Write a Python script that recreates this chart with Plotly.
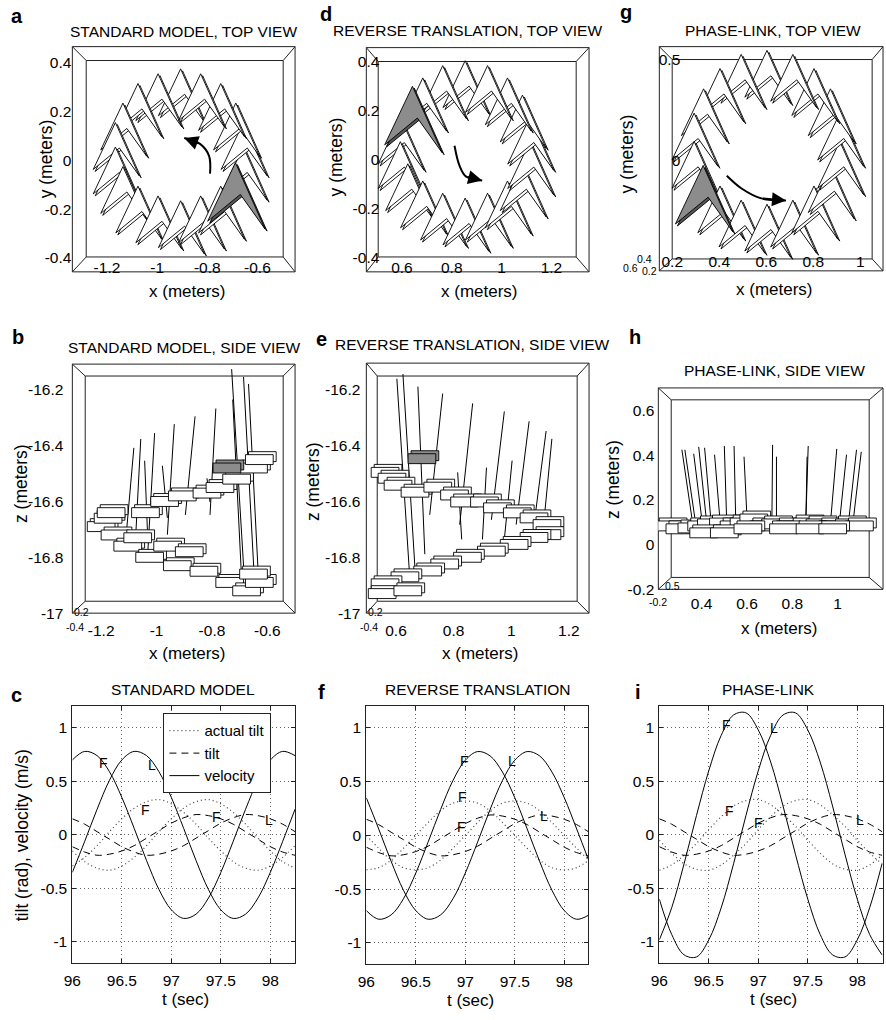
import plotly.graph_objects as go

W, H = 886, 1020
FONT = "Liberation Sans, Arial, Helvetica, sans-serif"

# ---------------- c / f / i : tilt and velocity against time ----------------
t = [96.0, 96.125, 96.25, 96.375, 96.5, 96.625, 96.75, 96.875, 97.0, 97.125,
     97.25, 97.375, 97.5, 97.625, 97.75, 97.875, 98.0, 98.125, 98.25]

tilt_F = [-0.11, -0.16, -0.19, -0.18, -0.15, -0.10, -0.03, 0.04, 0.11, 0.16,
          0.19, 0.18, 0.15, 0.10, 0.03, -0.04, -0.11, -0.16, -0.19]
tilt_L = [0.15, 0.10, 0.03, -0.04, -0.11, -0.16, -0.19, -0.18, -0.15, -0.10,
          -0.03, 0.04, 0.11, 0.16, 0.19, 0.18, 0.15, 0.10, 0.03]

std_vel_F = [0.70, 0.78, 0.74, 0.59, 0.35, 0.06, -0.24, -0.51, -0.70, -0.78,
             -0.74, -0.59, -0.35, -0.06, 0.24, 0.51, 0.70, 0.78, 0.74]
std_vel_L = [-0.35, -0.06, 0.24, 0.51, 0.70, 0.78, 0.74, 0.59, 0.35, 0.06,
             -0.24, -0.51, -0.70, -0.78, -0.74, -0.59, -0.35, -0.06, 0.24]
std_act_F = [-0.29, -0.21, -0.10, 0.03, 0.15, 0.25, 0.31, 0.33, 0.29, 0.21,
             0.10, -0.03, -0.15, -0.25, -0.31, -0.33, -0.29, -0.21, -0.10]
std_act_L = [-0.15, -0.25, -0.31, -0.33, -0.29, -0.21, -0.10, 0.03, 0.15, 0.25,
             0.31, 0.33, 0.29, 0.21, 0.10, -0.03, -0.15, -0.25, -0.31]

rev_vel_F = [-0.70, -0.78, -0.74, -0.59, -0.35, -0.06, 0.24, 0.51, 0.70, 0.78,
             0.74, 0.59, 0.35, 0.06, -0.24, -0.51, -0.70, -0.78, -0.74]
rev_vel_L = [0.35, 0.06, -0.24, -0.51, -0.70, -0.78, -0.74, -0.59, -0.35, -0.06,
             0.24, 0.51, 0.70, 0.78, 0.74, 0.59, 0.35, 0.06, -0.24]
rev_act_F = [-0.32, -0.30, -0.23, -0.12, 0.00, 0.12, 0.23, 0.30, 0.32, 0.30,
             0.23, 0.12, 0.00, -0.12, -0.23, -0.30, -0.32, -0.30, -0.23]
rev_act_L = [0.00, -0.12, -0.23, -0.30, -0.32, -0.30, -0.23, -0.12, 0.00, 0.12,
             0.23, 0.30, 0.32, 0.30, 0.23, 0.12, 0.00, -0.12, -0.23]

pl_vel_F = [-0.98, -0.68, -0.27, 0.18, 0.60, 0.93, 1.12, 1.14, 0.98, 0.68,
            0.27, -0.18, -0.60, -0.93, -1.12, -1.14, -0.98, -0.68, -0.27]
pl_vel_L = [-0.60, -0.93, -1.12, -1.14, -0.98, -0.68, -0.27, 0.18, 0.60, 0.93,
            1.12, 1.14, 0.98, 0.68, 0.27, -0.18, -0.60, -0.93, -1.12]
pl_act_F = [-0.33, -0.28, -0.19, -0.08, 0.05, 0.17, 0.27, 0.32, 0.33, 0.28,
            0.19, 0.08, -0.05, -0.17, -0.27, -0.32, -0.33, -0.28, -0.19]
pl_act_L = [-0.05, -0.17, -0.27, -0.32, -0.33, -0.28, -0.19, -0.08, 0.05, 0.17,
            0.27, 0.32, 0.33, 0.28, 0.19, 0.08, -0.05, -0.17, -0.27]

# F / L markers written on the curves
std_mark_x = [96.31, 96.80, 96.74, 97.46, 97.99]
std_mark_y = [0.67, 0.65, 0.23, 0.17, 0.14]
rev_mark_x = [96.99, 97.47, 96.97, 96.96, 97.79]
rev_mark_y = [0.69, 0.69, 0.36, 0.08, 0.18]
pl_mark_x = [96.68, 97.16, 96.71, 97.00, 98.03]
pl_mark_y = [1.03, 1.00, 0.22, 0.11, 0.14]
mark_text = ["F", "L", "F", "F", "L"]

t_ticks = [96, 96.5, 97, 97.5, 98]
t_ticktext = ["96", "96.5", "97", "97.5", "98"]
v_ticks = [-1, -0.5, 0, 0.5, 1]
v_ticktext = ["-1", "-0.5", "0", "0.5", "1"]

# ---------------- a / d / g : top views (glyph centres, metres) ----------------
a_x = [-0.90, -0.99, -1.07, -1.13, -1.16, -1.16, -1.13, -1.07, -0.99,
       -0.90, -0.82, -0.74, -0.68, -0.65, -0.65, -0.68, -0.74, -0.82]
a_y = [0.27, 0.25, 0.21, 0.13, 0.05, -0.05, -0.13, -0.21, -0.25,
       -0.27, -0.25, -0.21, -0.14, -0.05, 0.05, 0.13, 0.21, 0.25]
d_x = [0.86, 0.77, 0.69, 0.65, 0.60, 0.60, 0.63, 0.69, 0.77,
       0.86, 0.95, 1.03, 1.09, 1.12, 1.12, 1.09, 1.03, 0.95]
d_y = [0.30, 0.28, 0.23, 0.17, 0.07, -0.03, -0.12, -0.19, -0.24,
       -0.26, -0.24, -0.19, -0.12, -0.03, 0.07, 0.16, 0.23, 0.28]
g_x = [0.61, 0.50, 0.41, 0.34, 0.30, 0.30, 0.34, 0.41, 0.50,
       0.61, 0.72, 0.81, 0.88, 0.92, 0.92, 0.88, 0.81, 0.72]
g_y = [0.42, 0.40, 0.33, 0.23, 0.11, -0.03, -0.18, -0.25, -0.32,
       -0.34, -0.32, -0.25, -0.15, -0.03, 0.11, 0.23, 0.33, 0.40]
a_shaded, d_shaded, g_shaded = 12, 3, 6

a_arrow_x = [-0.789, -0.793, -0.829, -0.892]
a_arrow_y = [-0.055, 0.018, 0.067, 0.091]
d_arrow_x = [0.811, 0.831, 0.858, 0.922]
d_arrow_y = [0.057, -0.024, -0.069, -0.085]
g_arrow_x = [0.432, 0.495, 0.579, 0.684]
g_arrow_y = [-0.074, -0.137, -0.186, -0.196]

# ---------------- b / e / h : side views (plates and wing sticks, metres) ----------------
b_plate_x = [-1.20, -1.175, -1.15, -1.164, -1.104, -1.025, -1.068, -0.925, -0.829, -0.736,
             -0.675, -0.629, -0.65, -1.04, -0.971, -0.907, -0.818, -0.771, -0.711, -0.65,
             -0.629, -0.96, -0.882, -0.746]
b_plate_z = [-16.69, -16.66, -16.72, -16.64, -16.76, -16.80, -16.73, -16.83, -16.85, -16.89,
             -16.92, -16.89, -16.86, -16.64, -16.60, -16.58, -16.57, -16.55, -16.52, -16.48,
             -16.45, -16.76, -16.78, -16.48]
b_top_x = [-1.082, -1.057, -1.007, -0.936, -0.861, -0.786, -0.725, -0.729, -0.686, -0.668,
           -1.043, -0.979, -0.818]
b_top_z = [-16.408, -16.376, -16.355, -16.323, -16.295, -16.267, -16.235, -16.126, -16.154,
           -16.179, -16.454, -16.472, -16.517]
b_base_x = [-1.111, -1.075, -1.032, -0.961, -0.896, -0.807, -0.693, -0.682, -0.646, -0.632,
            -1.032, -0.961, -0.807]
b_base_z = [-16.736, -16.719, -16.789, -16.719, -16.648, -16.648, -16.877, -16.895, -16.895,
            -16.877, -16.729, -16.659, -16.602]

e_plate_x = [0.562, 0.586, 0.607, 0.666, 0.745, 0.803, 0.838, 0.907, 0.952, 1.021,
             1.079, 1.124, 1.124, 1.079, 1.010, 0.931, 0.848, 0.769, 0.710, 0.631,
             0.562, 0.552, 0.641, 0.690]
e_plate_z = [-16.496, -16.517, -16.542, -16.567, -16.549, -16.577, -16.602, -16.602, -16.623,
             -16.641, -16.659, -16.683, -16.719, -16.729, -16.754, -16.778, -16.800, -16.824,
             -16.849, -16.870, -16.895, -16.930, -16.920, -16.447]
e_top_x = [0.603, 0.624, 0.676, 0.762, 0.866, 0.976, 1.062, 1.121, 1.141, 1.003, 0.914, 0.814]
e_top_z = [-16.161, -16.144, -16.189, -16.214, -16.249, -16.278, -16.313, -16.348, -16.376,
           -16.454, -16.479, -16.496]
e_base_x = [0.648, 0.666, 0.700, 0.717, 0.821, 0.931, 1.017, 1.079, 1.114, 0.976, 0.900, 0.828]
e_base_z = [-16.877, -16.842, -16.789, -16.648, -16.683, -16.666, -16.683, -16.683, -16.666,
            -16.736, -16.736, -16.736]

h_plate_x = [0.261, 0.304, 0.357, 0.400, 0.443, 0.496, 0.543, 0.587, 0.630, 0.674, 0.726, 0.791,
             0.865, 0.922, 0.978, 1.052, 1.096, 0.409, 0.500, 0.604, 0.761, 0.878, 0.978]
h_plate_z = [0.084, 0.071, 0.075, 0.084, 0.093, 0.097, 0.084, 0.097, 0.115, 0.084, 0.093, 0.084,
             0.097, 0.093, 0.084, 0.093, 0.084, 0.053, 0.053, 0.071, 0.071, 0.071, 0.071]
h_top_x = [0.313, 0.326, 0.365, 0.387, 0.413, 0.457, 0.500, 0.543, 0.587, 0.713, 0.730, 0.870,
           0.865, 0.996, 1.083, 1.104, 1.039]
h_top_z = [0.425, 0.425, 0.407, 0.438, 0.434, 0.403, 0.442, 0.442, 0.394, 0.447, 0.394, 0.442,
           0.394, 0.429, 0.425, 0.416, 0.403]
h_base_x = [0.357, 0.370, 0.400, 0.420, 0.440, 0.480, 0.510, 0.550, 0.600, 0.710, 0.730, 0.860,
            0.860, 0.970, 1.050, 1.070, 1.010]
h_base_z = [0.12, 0.12, 0.12, 0.12, 0.12, 0.12, 0.12, 0.12, 0.12, 0.12, 0.12, 0.12,
            0.12, 0.12, 0.12, 0.12, 0.12]

# panel geometry: outer box / inner box in pixels, ranges, ticks, label standoffs
P = {
    "a": dict(n=1, box=(64, 47, 289, 274), inner=(78, 61, 277, 259),
              xr=(-1.338, -0.45), yr=(-0.457, 0.465),
              xt=[-1.2, -1, -0.8, -0.6], xtt=["-1.2", "-1", "-0.8", "-0.6"],
              yt=[-0.4, -0.2, 0, 0.2, 0.4], ytt=["-0.4", "-0.2", "0", "0.2", "0.4"],
              xs=-15, ys=0),
    "d": dict(n=2, box=(361, 48, 586, 274), inner=(373, 62, 573, 259),
              xr=(0.457, 1.351), yr=(-0.457, 0.457),
              xt=[0.6, 0.8, 1, 1.2], xtt=["0.6", "0.8", "1", "1.2"],
              yt=[-0.4, -0.2, 0, 0.2, 0.4], ytt=["-0.4", "-0.2", "0", "0.2", "0.4"],
              xs=-15, ys=-14),
    "g": dict(n=3, box=(657, 47, 883, 273), inner=(670, 60, 872, 261),
              xr=(0.145, 1.097), yr=(-0.544, 0.564),
              xt=[0.2, 0.4, 0.6, 0.8, 1], xtt=["0.2", "0.4", "0.6", "0.8", "1"],
              yt=[0, 0.5], ytt=["0", "0.5"],
              xs=-20, ys=-22),
    "b": dict(n=4, box=(64, 367, 289, 618), inner=(77, 379, 277, 606),
              xr=(-1.304, -0.5), yr=(-17.0, -16.108),
              xt=[-1.2, -1, -0.8, -0.6], xtt=["-1.2", "-1", "-0.8", "-0.6"],
              yt=[-17, -16.8, -16.6, -16.4, -16.2], ytt=["-17", "-16.8", "-16.6", "-16.4", "-16.2"],
              xs=6, ys=8),
    "e": dict(n=5, box=(361, 366, 586, 618), inner=(372, 379, 574, 606),
              xr=(0.497, 1.27), yr=(-17.0, -16.105),
              xt=[0.6, 0.8, 1, 1.2], xtt=["0.6", "0.8", "1", "1.2"],
              yt=[-17, -16.8, -16.6, -16.4, -16.2], ytt=["-17", "-16.8", "-16.6", "-16.4", "-16.2"],
              xs=6, ys=5),
    "h": dict(n=6, box=(656, 391, 883, 594), inner=(669, 403, 869, 582),
              xr=(0.209, 1.2), yr=(-0.2, 0.702),
              xt=[0.4, 0.6, 0.8, 1], xtt=["0.4", "0.6", "0.8", "1"],
              yt=[-0.2, 0, 0.2, 0.4, 0.6], ytt=["-0.2", "0", "0.2", "0.4", "0.6"],
              xs=3, ys=3),
    "c": dict(n=7, box=(64, 712, 289, 971), xr=(96, 98.25), yr=(-1.2, 1.2)),
    "f": dict(n=8, box=(361, 712, 585, 972), xr=(96, 98.24), yr=(-1.2, 1.2)),
    "i": dict(n=9, box=(657, 712, 883, 971), xr=(96, 98.26), yr=(-1.2, 1.2)),
}

WING = [(-2, 32), (28, -35), (3, 0), (-30, -27), (-2, 32)]
PLATE = [(-14, -5), (14, -5), (14, 5), (-14, 5), (-14, -5)]

fig = go.Figure()


def ref(n):
    return ("x", "y") if n == 1 else (f"x{n}", f"y{n}")


def units(p):
    x0, y0, x1, y1 = p["box"]
    return ((p["xr"][1] - p["xr"][0]) / (x1 - x0), (p["yr"][1] - p["yr"][0]) / (y1 - y0))


def poly(p, shape, cx, cy, s=1.0, off=(0, 0), fill="white"):
    ux, uy = units(p)
    xa, ya = ref(p["n"])
    fig.add_trace(go.Scatter(
        x=[cx + (sx * s + off[0]) * ux for sx, sy in shape],
        y=[cy + (sy * s + off[1]) * uy for sx, sy in shape],
        mode="lines", fill="toself", fillcolor=fill,
        line=dict(color="black", width=0.9), xaxis=xa, yaxis=ya,
        showlegend=False, hoverinfo="skip"))


def top_view(p, xs, ys, shaded, ax, ay):
    for k in range(len(xs)):
        if k == shaded:
            continue
        poly(p, WING, xs[k], ys[k], 0.8, off=(2, -2))
        poly(p, WING, xs[k], ys[k], 0.8)
    poly(p, WING, xs[shaded], ys[shaded], 1.0, off=(2, -2), fill="#555")
    poly(p, WING, xs[shaded], ys[shaded], 1.0, fill="#8c8c8c")
    xa, ya = ref(p["n"])
    fig.add_trace(go.Scatter(x=ax, y=ay, mode="lines", line=dict(color="black", width=2, shape="spline"),
                             xaxis=xa, yaxis=ya, showlegend=False, hoverinfo="skip"))
    fig.add_annotation(x=ax[-1], y=ay[-1], ax=ax[-2], ay=ay[-2], xref=xa, yref=ya, axref=xa, ayref=ya,
                       text="", showarrow=True, arrowhead=2, arrowsize=1.4, arrowwidth=2,
                       arrowcolor="black")


def side_view(p, px_, pz_, shaded, tx, tz, bx, bz):
    xa, ya = ref(p["n"])
    sx, sz = [], []
    for k in range(len(tx)):
        sx += [bx[k], tx[k], None]
        sz += [bz[k], tz[k], None]
    fig.add_trace(go.Scatter(x=sx, y=sz, mode="lines", line=dict(color="black", width=1),
                             xaxis=xa, yaxis=ya, showlegend=False, hoverinfo="skip"))
    order = [k for k in range(len(px_)) if k != shaded] + ([shaded] if shaded is not None else [])
    for k in order:
        fill = "#8c8c8c" if k == shaded else "white"
        poly(p, PLATE, px_[k], pz_[k], off=(3, 3), fill=fill)
        poly(p, PLATE, px_[k], pz_[k], fill=fill)


top_view(P["a"], a_x, a_y, a_shaded, a_arrow_x, a_arrow_y)
top_view(P["d"], d_x, d_y, d_shaded, d_arrow_x, d_arrow_y)
top_view(P["g"], g_x, g_y, g_shaded, g_arrow_x, g_arrow_y)
side_view(P["b"], b_plate_x, b_plate_z, len(b_plate_x) - 1, b_top_x, b_top_z, b_base_x, b_base_z)
side_view(P["e"], e_plate_x, e_plate_z, len(e_plate_x) - 1, e_top_x, e_top_z, e_base_x, e_base_z)
side_view(P["h"], h_plate_x, h_plate_z, None, h_top_x, h_top_z, h_base_x, h_base_z)

DOT = dict(color="#444", width=1.2, dash="1px,3px", shape="spline")
DASH = dict(color="black", width=1, dash="7px,5px", shape="spline")
SOLID = dict(color="black", width=1, shape="spline")


def time_panel(p, act, tilt, vel, mx, my, legend=False):
    xa, ya = ref(p["n"])
    names = ["actual tilt", "tilt", "velocity"]
    for j, (pair, style) in enumerate([(act, DOT), (tilt, DASH), (vel, SOLID)]):
        for q, series in enumerate(pair):
            fig.add_trace(go.Scatter(x=t, y=series, mode="lines", line=style, name=names[j],
                                     showlegend=legend and q == 0, xaxis=xa, yaxis=ya,
                                     hoverinfo="skip"))
    for k in range(len(mx)):
        fig.add_annotation(x=mx[k], y=my[k], xref=xa, yref=ya, text=mark_text[k], showarrow=False,
                           font=dict(size=14, family=FONT, color="black"))


time_panel(P["c"], (std_act_F, std_act_L), (tilt_F, tilt_L), (std_vel_F, std_vel_L),
           std_mark_x, std_mark_y, legend=True)
time_panel(P["f"], (rev_act_F, rev_act_L), (tilt_F, tilt_L), (rev_vel_F, rev_vel_L),
           rev_mark_x, rev_mark_y)
time_panel(P["i"], (pl_act_F, pl_act_L), (tilt_F, tilt_L), (pl_vel_F, pl_vel_L),
           pl_mark_x, pl_mark_y)

# ---- axes ----
TICKFONT = dict(size=15.5, family=FONT, color="black")
lay = {}
for key, p in P.items():
    n = p["n"]
    x0, y0, x1, y1 = p["box"]
    xd = [x0 / W, x1 / W]
    yd = [1 - y1 / H, 1 - y0 / H]
    xn = "xaxis" if n == 1 else f"xaxis{n}"
    yn = "yaxis" if n == 1 else f"yaxis{n}"
    xa, ya = ref(n)
    if "inner" in p:
        lay[xn] = dict(domain=xd, range=list(p["xr"]), anchor=ya, showgrid=False, zeroline=False,
                       showline=False, ticks="", tickvals=p["xt"], ticktext=p["xtt"],
                       tickfont=TICKFONT, ticklabelstandoff=p["xs"], fixedrange=True)
        lay[yn] = dict(domain=yd, range=list(p["yr"]), anchor=xa, showgrid=False, zeroline=False,
                       showline=False, ticks="", tickvals=p["yt"], ticktext=p["ytt"],
                       tickfont=TICKFONT, ticklabelstandoff=p["ys"], fixedrange=True)
    else:
        common = dict(showgrid=True, gridcolor="#666", griddash="1px,3px", gridwidth=1,
                      zeroline=False, showline=True, linecolor="#222", linewidth=1, mirror="ticks",
                      ticks="inside", ticklen=4, tickcolor="#222", tickfont=TICKFONT, fixedrange=True)
        lay[xn] = dict(domain=xd, range=list(p["xr"]), anchor=ya, tickvals=t_ticks,
                       ticktext=t_ticktext, ticklabelstandoff=3, **common)
        lay[yn] = dict(domain=yd, range=list(p["yr"]), anchor=xa, tickvals=v_ticks,
                       ticktext=v_ticktext, ticklabelstandoff=1, **common)
fig.update_layout(**lay)

# ---- perspective box frames of the 3-D views ----
shapes = []
LINE = dict(color="#222", width=1)
for key, p in P.items():
    if "inner" not in p:
        continue
    ox0, oy0, ox1, oy1 = p["box"]
    ix0, iy0, ix1, iy1 = p["inner"]
    for a0, b0, a1, b1 in [(ox0, oy0, ox1, oy1), (ix0, iy0, ix1, iy1)]:
        shapes.append(dict(type="rect", xref="paper", yref="paper", x0=a0 / W, x1=a1 / W,
                           y0=1 - b1 / H, y1=1 - b0 / H, line=LINE, layer="below"))
    for (a0, b0), (a1, b1) in [((ox0, oy0), (ix0, iy0)), ((ox1, oy0), (ix1, iy0)),
                               ((ox0, oy1), (ix0, iy1)), ((ox1, oy1), (ix1, iy1))]:
        shapes.append(dict(type="line", xref="paper", yref="paper", x0=a0 / W, x1=a1 / W,
                           y0=1 - b0 / H, y1=1 - b1 / H, line=LINE, layer="below"))
fig.update_layout(shapes=shapes)


# ---- texts ----
def text(x, y, s, size=14.5, angle=0, bold=False):
    fig.add_annotation(x=x / W, y=1 - y / H, xref="paper", yref="paper", text=f"<b>{s}</b>" if bold else s,
                       showarrow=False, textangle=angle, xanchor="center", yanchor="middle",
                       font=dict(size=size, family=FONT, color="black"))


titles = [(176, 32, "STANDARD MODEL, TOP VIEW"), (463, 31, "REVERSE TRANSLATION, TOP VIEW"),
          (772, 31, "PHASE-LINK, TOP VIEW"), (177, 350, "STANDARD MODEL, SIDE VIEW"),
          (468, 347, "REVERSE TRANSLATION, SIDE VIEW"), (773, 373, "PHASE-LINK, SIDE VIEW"),
          (176, 695, "STANDARD MODEL"), (473, 695, "REVERSE TRANSLATION"), (767, 695, "PHASE-LINK")]
for x, y, s in titles:
    text(x, y, s, 15.5)

letters = [(8, 16, "a"), (9, 340, "b"), (8, 700, "c"), (320, 14, "d"), (316, 342, "e"),
           (316, 697, "f"), (623, 12, "g"), (632, 340, "h"), (635, 697, "i")]
for x, y, s in letters:
    text(x, y, s, 20, bold=True)

for x, y, s in [(180, 294, "x (meters)"), (475, 294, "x (meters)"), (773, 292, "x (meters)"),
                (180, 659, "x (meters)"), (476, 659, "x (meters)"), (778, 633, "x (meters)"),
                (178, 1007, "t (sec)"), (466, 1008, "t (sec)"), (772, 1007, "t (sec)")]:
    text(x, y, s, 17)

for x, y, s in [(37, 160, "y (meters)"), (330, 158, "y (meters)"), (624, 155, "y (meters)"),
                (12, 487, "z (meters)"), (307, 485, "z (meters)"), (610, 483, "z (meters)"),
                (14, 842, "tilt (rad), velocity (m/s)")]:
    text(x, y, s, 17.5, angle=-90)

# crowded labels of the hidden third axis
for x, y, s in [(73, 617, "0.2"), (67, 632, "-0.4"), (370, 617, "0.2"), (364, 632, "-0.4"),
                (628, 270, "0.6"), (642, 261, "0.4"), (647, 273, "0.2"),
                (670, 591, "0.5"), (656, 607, "-0.2")]:
    text(x, y, s, 10.5)

fig.update_layout(
    width=W, height=H, margin=dict(l=0, r=0, t=0, b=0),
    paper_bgcolor="white", plot_bgcolor="rgba(0,0,0,0)",
    font=dict(family=FONT, color="black"),
    legend=dict(x=156 / W, y=1 - 719 / H, xanchor="left", yanchor="top", bgcolor="white",
                bordercolor="#222", borderwidth=1, font=dict(size=15, family=FONT, color="black"),
                tracegroupgap=0),
)

fig.write_html("out.html", config={"displayModeBar": False},
               post_script="document.body.style.margin='0';")
